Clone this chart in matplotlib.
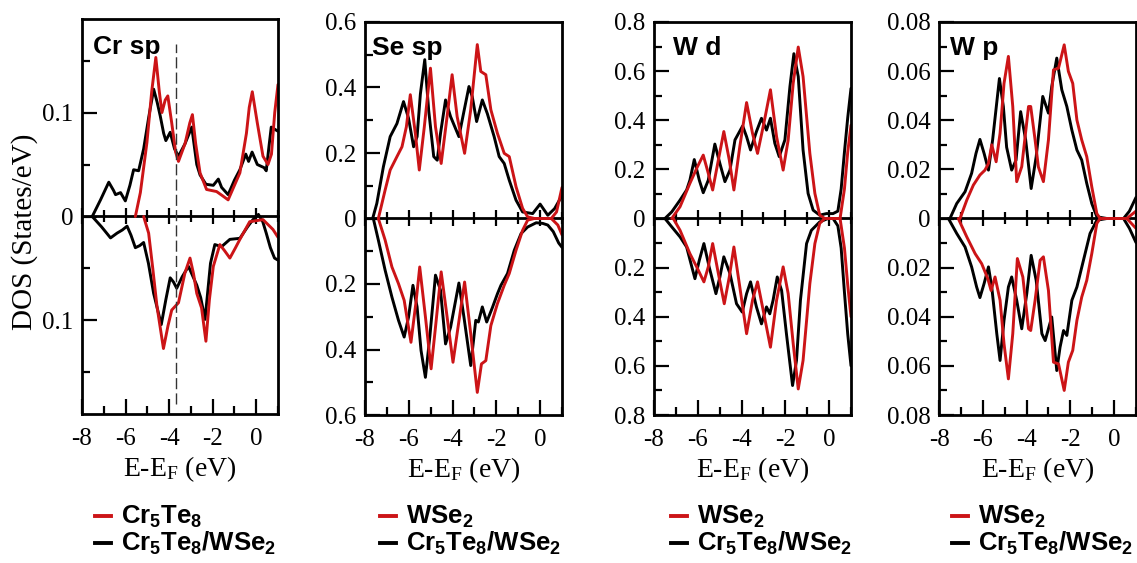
import matplotlib
matplotlib.use("Agg")
import matplotlib.pyplot as plt
from matplotlib.lines import Line2D
from matplotlib.ticker import MultipleLocator, FuncFormatter, NullFormatter
import numpy as np

plt.rcParams['font.family'] = ['Liberation Serif', 'DejaVu Serif']
plt.rcParams['mathtext.fontset'] = 'custom'
plt.rcParams['mathtext.rm'] = 'Liberation Serif'
plt.rcParams['mathtext.it'] = 'Liberation Serif:italic'
plt.rcParams['mathtext.bf'] = 'Liberation Sans:bold'

# ---------------- data (energy in eV, DOS in states/eV; spin-down given as magnitude) -------------
# Panel 1: Cr sp
cr_host_up_x = [-5.55, -5.32, -5.02, -4.80, -4.61, -4.45, -4.33, -4.18, -4.06, -3.88, -3.70, -3.57, -3.27, -3.05,
                -2.93, -2.78, -2.58, -2.28, -1.82, -1.55, -1.29, -0.75, -0.45, -0.32, -0.18, 0.05, 0.31, 0.54,
                0.70, 0.85, 1.0]
cr_host_up_y = [0, 0.023, 0.071, 0.12, 0.153, 0.12, 0.10, 0.112, 0.116, 0.09, 0.062, 0.053, 0.07, 0.09,
                0.098, 0.07, 0.042, 0.026, 0.024, 0.02, 0.016, 0.042, 0.08, 0.105, 0.12, 0.09, 0.058, 0.05,
                0.06, 0.10, 0.127]
cr_het_up_x = [-7.53, -7.15, -6.77, -6.55, -6.46, -6.23, -6.01, -5.80, -5.63, -5.40, -5.17, -4.94, -4.71, -4.55,
               -4.41, -4.25, -4.15, -3.95, -3.75, -3.57, -3.27, -2.96, -2.73, -2.58, -2.31, -1.97, -1.74, -1.59,
               -1.29, -1.00, -0.75, -0.48, -0.35, -0.19, 0.05, 0.36, 0.46, 0.60, 0.69, 1.0]
cr_het_up_y = [0, 0.016, 0.033, 0.025, 0.021, 0.023, 0.015, 0.03, 0.045, 0.044, 0.065, 0.095, 0.1225, 0.11,
               0.097, 0.08, 0.073, 0.081, 0.065, 0.058, 0.07, 0.086, 0.05, 0.04, 0.031, 0.03, 0.036, 0.028,
               0.021, 0.035, 0.045, 0.06, 0.053, 0.062, 0.05, 0.047, 0.044, 0.07, 0.086, 0.082]
cr_host_dn_x = [-5.17, -4.94, -4.75, -4.56, -4.26, -4.05, -3.88, -3.57, -3.27, -3.04, -2.88, -2.73, -2.51, -2.31,
                -2.15, -1.97, -1.67, -1.45, -1.21, -0.95, -0.75, -0.30, 0.31, 0.77, 1.0]
cr_host_dn_y = [0, 0.016, 0.05, 0.086, 0.127, 0.105, 0.09, 0.083, 0.054, 0.040, 0.055, 0.074, 0.088, 0.12,
                0.08, 0.048, 0.027, 0.033, 0.04, 0.03, 0.022, 0.005, 0.003, 0.0125, 0.02]
cr_het_dn_x = [-7.53, -7.10, -6.69, -6.39, -6.15, -5.93, -5.75, -5.55, -5.35, -5.17, -4.95, -4.71, -4.36, -4.15,
               -3.95, -3.80, -3.65, -3.40, -3.11, -2.90, -2.73, -2.55, -2.35, -2.10, -1.90, -1.59, -1.21, -0.75,
               -0.40, -0.15, 0.10, 0.30, 0.46, 0.65, 0.84, 1.0]
cr_het_dn_y = [0, 0.01, 0.0206, 0.016, 0.013, 0.0093, 0.018, 0.030, 0.028, 0.025, 0.045, 0.074, 0.104, 0.08,
               0.059, 0.063, 0.069, 0.058, 0.048, 0.058, 0.066, 0.078, 0.099, 0.045, 0.027, 0.029, 0.022, 0.021,
               0.01, 0.003, -0.002, 0.005, 0.016, 0.03, 0.04, 0.042]
cr_marker_energy = -3.7

# Panel 2: Se sp
se_host_up_x = [-7.39, -7.08, -6.85, -6.54, -6.31, -6.11, -5.93, -5.70, -5.52, -5.29, -5.01, -4.78, -4.52, -4.25,
                -4.02, -3.79, -3.45, -3.17, -2.87, -2.71, -2.48, -2.25, -1.95, -1.64, -1.41, -1.10, -0.80, -0.57,
                -0.26, 0.51, 0.75, 1.0]
se_host_up_y = [0, 0.087, 0.148, 0.189, 0.219, 0.28, 0.378, 0.26, 0.148, 0.28, 0.459, 0.28, 0.168, 0.311,
                0.439, 0.311, 0.199, 0.332, 0.531, 0.449, 0.439, 0.332, 0.26, 0.199, 0.189, 0.097, 0.031, 0.005,
                0, 0, 0.02, 0.095]
se_het_up_x = [-7.65, -7.46, -7.16, -6.85, -6.54, -6.24, -6.01, -5.78, -5.62, -5.47, -5.27, -5.09, -4.86, -4.70,
               -4.55, -4.32, -4.09, -3.71, -3.48, -3.25, -3.10, -2.90, -2.64, -2.41, -2.10, -1.87, -1.64, -1.41,
               -1.10, -0.80, -0.34, 0.0, 0.35, 0.66, 1.0]
se_het_up_y = [0, 0.046, 0.158, 0.25, 0.29, 0.357, 0.306, 0.219, 0.25, 0.38, 0.485, 0.33, 0.189, 0.178,
               0.26, 0.362, 0.311, 0.25, 0.327, 0.403, 0.372, 0.296, 0.362, 0.32, 0.25, 0.189, 0.168, 0.117,
               0.056, 0.02, 0.015, 0.044, 0.01, 0.03, 0.07]
se_host_dn_x = [-7.39, -7.08, -6.77, -6.47, -6.21, -5.90, -5.66, -5.50, -5.24, -4.98, -4.78, -4.52, -4.25, -3.98,
                -3.75, -3.45, -3.17, -2.87, -2.68, -2.48, -2.25, -1.95, -1.64, -1.41, -1.10, -0.80, -0.57, -0.26,
                0.51, 0.81, 1.0]
se_host_dn_y = [0, 0.066, 0.148, 0.199, 0.25, 0.378, 0.25, 0.148, 0.30, 0.459, 0.332, 0.163, 0.30, 0.439,
                0.332, 0.194, 0.352, 0.531, 0.444, 0.434, 0.327, 0.26, 0.204, 0.168, 0.097, 0.036, 0.005, 0,
                0, 0.02, 0.05]
se_het_dn_x = [-7.62, -7.39, -7.08, -6.77, -6.47, -6.21, -6.01, -5.81, -5.62, -5.44, -5.24, -5.04, -4.78, -4.55,
               -4.32, -4.09, -3.71, -3.48, -3.17, -2.94, -2.82, -2.64, -2.44, -2.18, -1.95, -1.79, -1.49, -1.18,
               -0.87, -0.57, -0.18, 0.12, 0.35, 0.60, 0.85, 1.0]
se_het_dn_y = [0, 0.066, 0.158, 0.24, 0.311, 0.362, 0.301, 0.204, 0.27, 0.403, 0.485, 0.362, 0.173, 0.219,
               0.383, 0.332, 0.197, 0.301, 0.449, 0.311, 0.316, 0.27, 0.316, 0.272, 0.23, 0.204, 0.168, 0.097,
               0.046, 0.026, 0.013, 0.015, 0.02, 0.04, 0.075, 0.088]

# Panel 3: W d
wd_host_up_x = [-7.19, -6.81, -6.36, -6.02, -5.75, -5.52, -5.32, -5.06, -4.81, -4.56, -4.35, -4.08, -3.77, -3.50,
                -3.27, -2.98, -2.68, -2.40, -2.10, -1.87, -1.64, -1.41, -1.19, -0.88, -0.65, -0.43, -0.20, 0.50,
                0.70, 0.85, 1.0]
wd_host_up_y = [0, 0.048, 0.143, 0.21, 0.258, 0.184, 0.116, 0.238, 0.354, 0.238, 0.116, 0.293, 0.472, 0.347,
                0.265, 0.388, 0.524, 0.333, 0.197, 0.32, 0.551, 0.698, 0.578, 0.265, 0.102, 0.014, 0, 0,
                0.12, 0.27, 0.38]
wd_het_up_x = [-7.50, -7.19, -6.81, -6.51, -6.36, -6.16, -5.93, -5.75, -5.52, -5.22, -4.99, -4.76, -4.53, -4.30,
               -3.95, -3.77, -3.59, -3.32, -3.09, -2.86, -2.68, -2.48, -2.28, -2.02, -1.79, -1.61, -1.41, -1.19,
               -0.96, -0.73, -0.43, -0.12, 0.18, 0.40, 0.55, 0.70, 0.85, 1.0]
wd_het_up_y = [0, 0.027, 0.075, 0.116, 0.156, 0.24, 0.156, 0.105, 0.156, 0.303, 0.224, 0.15, 0.197, 0.32,
               0.377, 0.333, 0.279, 0.354, 0.408, 0.36, 0.408, 0.306, 0.252, 0.32, 0.537, 0.671, 0.578, 0.279,
               0.102, 0.034, 0.0136, 0.02, 0.02, 0.03, 0.12, 0.27, 0.41, 0.53]
wd_host_dn_x = [-7.12, -6.81, -6.36, -6.05, -5.72, -5.52, -5.32, -5.06, -4.79, -4.56, -4.35, -4.08, -3.77, -3.50,
                -3.27, -2.98, -2.68, -2.40, -2.10, -1.87, -1.64, -1.41, -1.19, -0.88, -0.65, -0.43, -0.20, 0.50,
                0.70, 0.85, 1.0]
wd_host_dn_y = [0, 0.048, 0.143, 0.197, 0.258, 0.197, 0.102, 0.224, 0.347, 0.238, 0.116, 0.279, 0.469, 0.333,
                0.258, 0.388, 0.524, 0.333, 0.197, 0.306, 0.51, 0.694, 0.578, 0.265, 0.102, 0.02, 0, 0,
                0.12, 0.27, 0.40]
wd_het_dn_x = [-7.50, -7.19, -6.81, -6.51, -6.31, -6.13, -5.93, -5.72, -5.48, -5.17, -4.99, -4.81, -4.53, -4.23,
               -3.97, -3.77, -3.59, -3.32, -3.09, -2.86, -2.71, -2.56, -2.37, -2.17, -1.95, -1.67, -1.49, -1.31,
               -1.03, -0.81, -0.43, -0.05, 0.18, 0.40, 0.55, 0.70, 0.85, 1.0]
wd_het_dn_y = [0, 0.034, 0.075, 0.116, 0.184, 0.245, 0.17, 0.102, 0.197, 0.306, 0.238, 0.156, 0.224, 0.347,
               0.381, 0.306, 0.258, 0.36, 0.429, 0.36, 0.388, 0.333, 0.238, 0.293, 0.469, 0.68, 0.578, 0.333,
               0.102, 0.048, 0.014, 0, 0, 0.03, 0.12, 0.30, 0.47, 0.60]

# Panel 4: W p
wp_host_up_x = [-7.04, -6.73, -6.43, -6.13, -5.90, -5.74, -5.59, -5.39, -5.21, -5.03, -4.83, -4.63, -4.45, -4.22,
                -3.91, -3.81, -3.61, -3.46, -3.23, -3.00, -2.77, -2.54, -2.28, -2.09, -1.89, -1.70, -1.48, -1.25,
                -1.02, -0.79, -0.64, 0.58, 1.0]
wp_host_up_y = [0, 0.0075, 0.0136, 0.0177, 0.0197, 0.0224, 0.03, 0.0231, 0.0347, 0.055, 0.066, 0.0456, 0.015,
                0.0211, 0.0456, 0.0456, 0.032, 0.021, 0.015, 0.032, 0.0605, 0.0612, 0.0707, 0.0599, 0.055, 0.0401,
                0.032, 0.0252, 0.0129, 0.002, 0, 0, 0.003]
wp_het_up_x = [-7.50, -7.19, -6.81, -6.51, -6.31, -6.13, -5.94, -5.74, -5.55, -5.24, -5.06, -4.91, -4.68, -4.48,
               -4.27, -4.04, -3.79, -3.56, -3.26, -3.00, -2.85, -2.62, -2.39, -2.16, -1.93, -1.70, -1.48, -1.25,
               -1.02, -0.79, -0.33, 0.43, 0.70, 1.0]
wp_het_up_y = [0, 0.0061, 0.0109, 0.0184, 0.0265, 0.0322, 0.0265, 0.0197, 0.032, 0.057, 0.0456, 0.029, 0.0197,
               0.0238, 0.0435, 0.032, 0.0122, 0.0252, 0.0497, 0.0429, 0.0537, 0.0653, 0.0524, 0.0456, 0.036,
               0.0279, 0.0238, 0.0143, 0.0061, 0.0007, 0, 0, 0.003, 0.0086]
wp_host_dn_x = [-7.12, -6.73, -6.35, -6.05, -5.77, -5.62, -5.44, -5.21, -5.03, -4.83, -4.63, -4.42, -4.17, -3.91,
                -3.81, -3.61, -3.38, -3.23, -3.00, -2.77, -2.54, -2.28, -2.09, -1.89, -1.70, -1.48, -1.25, -1.02,
                -0.79, -0.64, 0.58, 1.0]
wp_host_dn_y = [0, 0.0075, 0.0143, 0.0184, 0.0245, 0.0293, 0.0238, 0.0333, 0.051, 0.0653, 0.0469, 0.0163,
                0.0238, 0.0449, 0.0456, 0.0333, 0.017, 0.0156, 0.0293, 0.0585, 0.0592, 0.07, 0.0585, 0.0537,
                0.0415, 0.032, 0.0252, 0.0143, 0.002, 0, 0, 0.004]
wp_het_dn_x = [-7.57, -7.19, -6.81, -6.51, -6.28, -6.13, -5.94, -5.74, -5.59, -5.36, -5.21, -5.03, -4.83, -4.68,
               -4.45, -4.22, -3.99, -3.79, -3.56, -3.30, -3.15, -2.85, -2.62, -2.47, -2.31, -2.16, -1.93, -1.70,
               -1.40, -1.10, -0.79, -0.33, 0.43, 0.70, 1.0]
wp_het_dn_y = [0, 0.0061, 0.0116, 0.0197, 0.0279, 0.0322, 0.0265, 0.0197, 0.0279, 0.0469, 0.0578, 0.0415,
               0.0279, 0.0238, 0.0333, 0.0449, 0.0306, 0.015, 0.0252, 0.0469, 0.0497, 0.0401, 0.0619, 0.0524,
               0.0456, 0.0476, 0.0333, 0.0279, 0.017, 0.0061, 0.0007, 0, 0, 0.004, 0.0098]

panel_titles = ["Cr sp", "Se sp", "W d", "W p"]
red_labels = [r"$\mathbf{Cr_5Te_8}$", r"$\mathbf{WSe_2}$", r"$\mathbf{WSe_2}$", r"$\mathbf{WSe_2}$"]
black_label = r"$\mathbf{Cr_5Te_8/WSe_2}$"

RED = '#cc1417'
BLACK = '#000000'

fig = plt.figure(figsize=(11.37, 5.63), dpi=100)
W, H = 1137.0, 563.0

# axes rects in pixels: left, right, top, bottom
rects_px = [(82, 278, 19, 414), (365, 562, 22, 415), (654, 851, 22, 415), (939, 1136, 22, 415)]
ylims = [0.19, 0.6, 0.8, 0.08]
y_major = [0.1, 0.2, 0.2, 0.02]
y_minor = [0.05, 0.1, 0.1, 0.01]
y_dec = [1, 1, 1, 2]
title_pos = [(0.056, 0.929), (0.036, 0.934), (0.096, 0.934), (0.056, 0.934)]
legend_x_px = [95, 380, 671, 952]

curves = [
    (cr_het_up_x, cr_het_up_y, cr_het_dn_x, cr_het_dn_y, cr_host_up_x, cr_host_up_y, cr_host_dn_x, cr_host_dn_y),
    (se_het_up_x, se_het_up_y, se_het_dn_x, se_het_dn_y, se_host_up_x, se_host_up_y, se_host_dn_x, se_host_dn_y),
    (wd_het_up_x, wd_het_up_y, wd_het_dn_x, wd_het_dn_y, wd_host_up_x, wd_host_up_y, wd_host_dn_x, wd_host_dn_y),
    (wp_het_up_x, wp_het_up_y, wp_het_dn_x, wp_het_dn_y, wp_host_up_x, wp_host_up_y, wp_host_dn_x, wp_host_dn_y),
]

for i in range(4):
    l, r, t, b = rects_px[i]
    ax = fig.add_axes([l / W, 1 - b / H, (r - l) / W, (b - t) / H])
    hux, huy, hdx, hdy, rux, ruy, rdx, rdy = curves[i]
    kw = dict(lw=2.1, solid_joinstyle='round', solid_capstyle='round')
    ax.plot(hux, huy, color=BLACK, **kw)
    ax.plot(hdx, -np.asarray(hdy), color=BLACK, **kw)
    ax.plot(rux, ruy, color=RED, **kw)
    ax.plot(rdx, -np.asarray(rdy), color=RED, **kw)

    ax.set_xlim(-8, 1)
    ax.set_ylim(-ylims[i], ylims[i])
    ax.xaxis.set_major_locator(MultipleLocator(2))
    ax.xaxis.set_minor_locator(MultipleLocator(1))
    ax.yaxis.set_major_locator(MultipleLocator(y_major[i]))
    ax.yaxis.set_minor_locator(MultipleLocator(y_minor[i]))
    nd = y_dec[i]
    ax.yaxis.set_major_formatter(FuncFormatter(
        lambda v, p, nd=nd: '0' if abs(v) < 1e-9 else f'{abs(v):.{nd}f}'))
    ax.xaxis.set_major_formatter(FuncFormatter(lambda v, p: f'{int(round(v))}'))
    ax.tick_params(axis='both', which='both', direction='in', top=False, right=False,
                   width=1.6, labelsize=18, colors='black')
    ax.tick_params(axis='x', which='major', length=11, pad=10)
    ax.tick_params(axis='x', which='minor', length=6)
    ax.tick_params(axis='y', which='major', length=11, pad=6)
    ax.tick_params(axis='y', which='minor', length=6)
    for s in ax.spines.values():
        s.set_linewidth(2.0)

    # zero line with crossing ticks
    sec = ax.secondary_xaxis(0.5)
    sec.xaxis.set_major_locator(MultipleLocator(2))
    sec.xaxis.set_minor_locator(MultipleLocator(1))
    sec.xaxis.set_major_formatter(NullFormatter())
    sec.tick_params(which='major', direction='inout', length=12, width=1.6)
    sec.tick_params(which='minor', direction='inout', length=8, width=1.6)
    for s in sec.spines.values():
        s.set_linewidth(2.0)

    ax.set_xlabel(r"E-E$_\mathrm{F}$ (eV)", fontsize=20, labelpad=3)
    ax.text(title_pos[i][0], title_pos[i][1], panel_titles[i], transform=ax.transAxes,
            fontfamily='Liberation Sans', fontweight='bold', fontsize=19, va='center', ha='left')

    if i == 0:
        ax.plot([cr_marker_energy, cr_marker_energy], [-0.18, 0.166], color='#333333', lw=1.0,
                dashes=(8, 3))

    # legend below panel
    lx = legend_x_px[i]
    for row, (col, lab) in enumerate([(RED, red_labels[i]), (BLACK, black_label)]):
        ydash = 1 - (516 + 27 * row) / H
        ybase = 1 - (524 + 27 * row) / H
        fig.add_artist(Line2D([lx / W, (lx + 16) / W], [ydash, ydash], color=col, lw=2.8,
                              transform=fig.transFigure))
        fig.text((lx + 26) / W, ybase, lab, fontsize=18.5, va='baseline', ha='left')

fig.text(25 / W, 1 - 232 / H, "DOS (States/eV)", rotation=90, fontsize=21, ha='center', va='center')

fig.savefig("out.png", dpi=100)
